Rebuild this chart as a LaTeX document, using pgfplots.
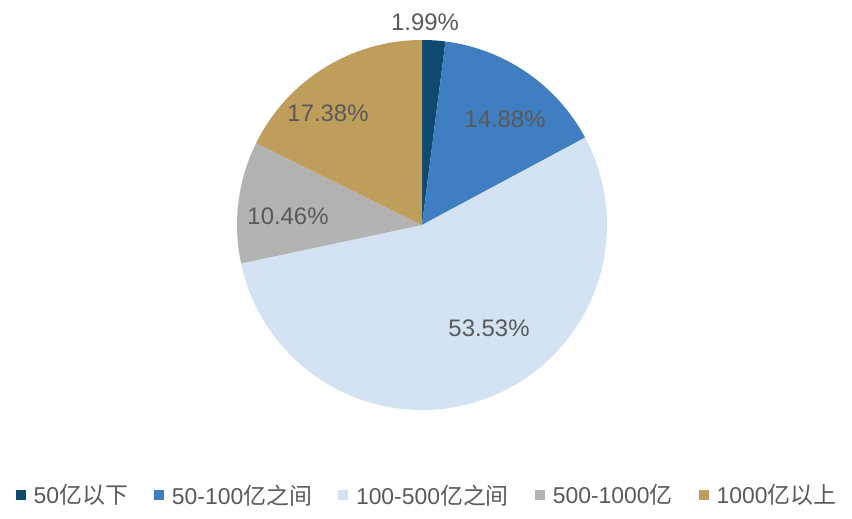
\documentclass[border=0pt]{standalone}
\usepackage{fontspec}
\setmainfont{Liberation Sans}
\newfontfamily\cjk{Noto Sans CJK SC}
\usepackage{pgfplots}
\usepackage{pgfplotstable}
\pgfplotsset{compat=1.18}
\definecolor{c1}{HTML}{0E4A6E}
\definecolor{c2}{HTML}{3F7EC0}
\definecolor{c3}{HTML}{D3E3F3}
\definecolor{c4}{HTML}{B3B3B3}
\definecolor{c5}{HTML}{BF9E5B}
\definecolor{txt}{HTML}{595959}
\newcommand\lf{\fontsize{23}{26}\selectfont}
\pgfplotstableread{
value
1.99
14.88
53.53
10.46
17.38
}\piedata
\begin{document}
\begin{tikzpicture}
\pgfplotstablegetelem{0}{value}\of\piedata \let\va\pgfplotsretval
\pgfplotstablegetelem{1}{value}\of\piedata \let\vb\pgfplotsretval
\pgfplotstablegetelem{2}{value}\of\piedata \let\vc\pgfplotsretval
\pgfplotstablegetelem{3}{value}\of\piedata \let\vd\pgfplotsretval
\pgfplotstablegetelem{4}{value}\of\piedata \let\ve\pgfplotsretval
\pgfmathsetmacro\tot{\va+\vb+\vc+\vd+\ve}
\pgfmathsetmacro\k{360/\tot}
\pgfmathsetmacro\aA{90}
\pgfmathsetmacro\aB{90-\k*(\va)}
\pgfmathsetmacro\aC{90-\k*(\va+\vb)}
\pgfmathsetmacro\aD{90-\k*(\va+\vb+\vc)}
\pgfmathsetmacro\aE{90-\k*(\va+\vb+\vc+\vd)}
\pgfmathsetmacro\aF{-270}
\begin{axis}[
  width=852bp, height=519bp, scale only axis,
  xmin=0, xmax=852, ymin=0, ymax=519,
  hide axis, clip=false,
  legend columns=5,
  legend image code/.code={\fill[#1] (0bp,-5bp) rectangle (10bp,5bp);},
  legend style={draw=none, fill=none, at={(0.5,0.046)}, anchor=center,
    text=txt,
    nodes={inner xsep=0pt, inner ysep=1pt},
    /tikz/every odd column/.append style={column sep=8bp},
    /tikz/every even column/.append style={column sep=26bp},
    cells={anchor=west}},
]
\path (axis cs:0,0) rectangle (axis cs:852,519);
\addplot[fill=c1, draw=none, domain=\aB:\aA, samples=20, variable=\t]
  ({422+185*cos(\t)},{294+185*sin(\t)}) -- (axis cs:422,294) -- cycle;
\addlegendentry{\lf 50{\cjk 亿以下}}
\addplot[fill=c2, draw=none, domain=\aC:\aB, samples=60, variable=\t]
  ({422+185*cos(\t)},{294+185*sin(\t)}) -- (axis cs:422,294) -- cycle;
\addlegendentry{\lf 50-100{\cjk 亿之间}}
\addplot[fill=c3, draw=none, domain=\aD:\aC, samples=150, variable=\t]
  ({422+185*cos(\t)},{294+185*sin(\t)}) -- (axis cs:422,294) -- cycle;
\addlegendentry{\lf 100-500{\cjk 亿之间}}
\addplot[fill=c4, draw=none, domain=\aE:\aD, samples=40, variable=\t]
  ({422+185*cos(\t)},{294+185*sin(\t)}) -- (axis cs:422,294) -- cycle;
\addlegendentry{\lf 500-1000{\cjk 亿}}
\addplot[fill=c5, draw=none, domain=\aF:\aE, samples=60, variable=\t]
  ({422+185*cos(\t)},{294+185*sin(\t)}) -- (axis cs:422,294) -- cycle;
\addlegendentry{\lf 1000{\cjk 亿以上}}
\begin{scope}[every node/.style={text=txt, font=\fontsize{24}{28}\selectfont}]
\node at (axis cs:425,497) {1.99\%};
\node at (axis cs:505,400) {14.88\%};
\node at (axis cs:489,191) {53.53\%};
\node at (axis cs:288,303) {10.46\%};
\node at (axis cs:328,406) {17.38\%};
\end{scope}
\end{axis}
\end{tikzpicture}
\end{document}
